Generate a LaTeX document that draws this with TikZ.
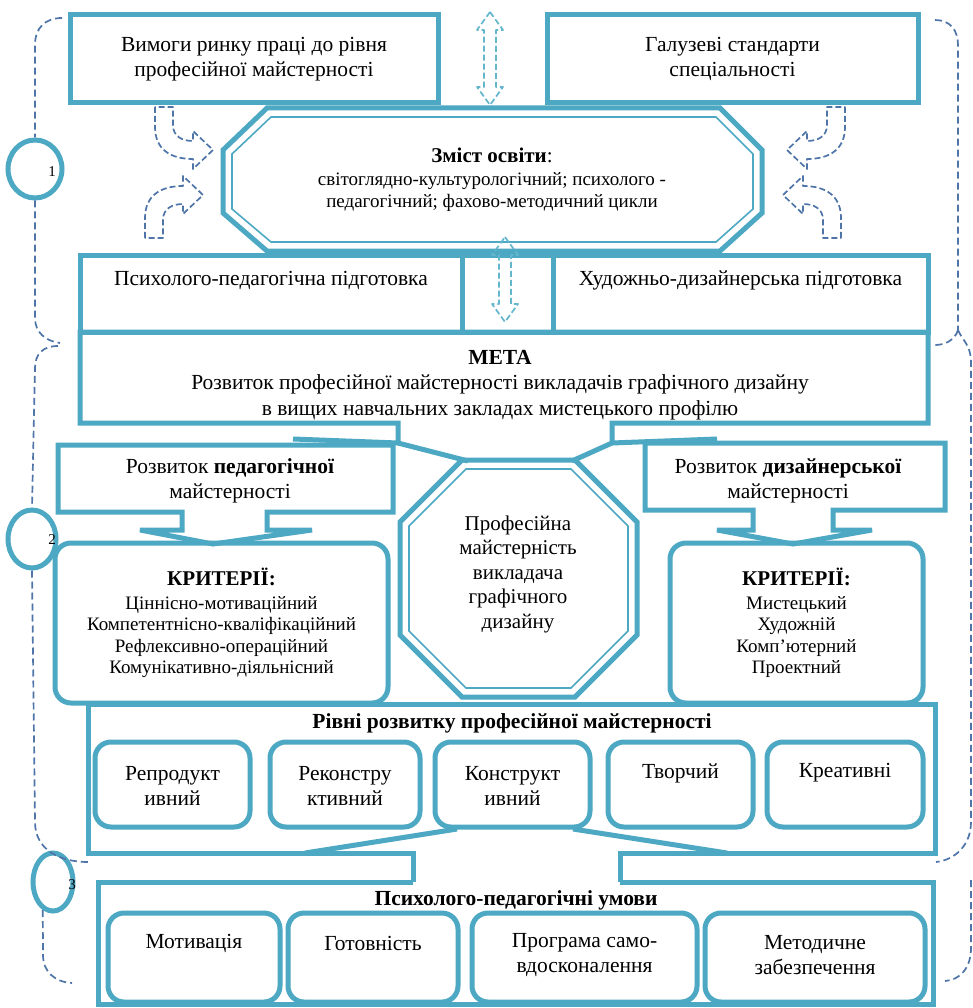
\documentclass[tikz,border=0pt]{standalone}
\usepackage{fontspec}
\setmainfont{Liberation Serif}
\usetikzlibrary{arrows.meta,calc,shapes.geometric,positioning}
\definecolor{frameblue}{HTML}{4DA8C3}
\definecolor{dashblue}{HTML}{4F74A8}
\definecolor{lightblue}{HTML}{63B6CC}
\newcommand{\fsz}[2]{\fontsize{#1}{#2}\selectfont}

\begin{document}
\begin{tikzpicture}[x=1pt, y=-1pt]

\tikzset{
  frame/.style={
    draw=frameblue,
    line width=5pt
  },
  inner/.style={
    draw=frameblue,
    line width=1.6pt
  },
  box/.style={
    frame,
    fill=white,
    inner sep=0pt
  },
  rbox/.style={
    frame,
    rounded corners=16pt,
    inner sep=0pt
  },
  lab/.style={
    align=center,
    inner sep=0pt,
    font=\fsz{21.5}{25.5}
  },
  small/.style={
    align=center,
    inner sep=0pt,
    font=\fsz{19}{21.5}
  },
  brace/.style={
    draw=dashblue,
    line width=1.7pt,
    dash pattern=on 7pt off 4pt
  },
  hollow/.style={
    draw=lightblue,
    line width=1.7pt,
    dash pattern=on 6pt off 3pt,
    line join=round
  },
  bent/.style={
    draw=dashblue,
    line width=1.7pt,
    dash pattern=on 6pt off 3pt,
    line join=round
  },
  ring/.style={
    ellipse,
    draw=frameblue,
    line width=5pt,
    inner sep=0pt
  },
  num/.style={
    inner sep=0pt,
    font=\fsz{15}{17}
  }
}

\useasboundingbox[fill=white] (0,0) rectangle (973,1008);

% Block 1: requirements, standards, content of education
\node[box, lab, minimum width=368pt, minimum height=88pt] (market) at (254,59)
  {Вимоги ринку праці до рівня\\професійної майстерності};
\node[box, lab, minimum width=371pt, minimum height=88pt] (standard) at (732.5,59)
  {Галузеві стандарти\\ спеціальності};

\draw[frame] (267,108) -- (720,108) -- (762,150) -- (762,213) -- (720,251)
  -- (267,251) -- (223,213) -- (223,150) -- cycle;
\draw[inner] (271,117) -- (716,117) -- (753,154) -- (753,209) -- (716,242)
  -- (271,242) -- (232,209) -- (232,154) -- cycle;
\node[align=center, inner sep=0pt, font=\fsz{19}{22.5}] (content) at (492,180)
  {{\fsz{21}{22.5}\textbf{Зміст освіти}:}\\
   світоглядно-культурологічний; психолого -\\
   педагогічний; фахово-методичний цикли};

\node[box, minimum width=382pt, minimum height=77pt] (psy) at (271,293.5) {};
\node[box, minimum width=91pt, minimum height=77pt] (mid) at (507.5,293.5) {};
\node[box, minimum width=375pt, minimum height=77pt] (art) at (740.5,293.5) {};
\node[lab] (psy-t) at (psy |- 0,280) {Психолого-педагогічна підготовка};
\node[lab] (art-t) at (art |- 0,280) {Художньо-дизайнерська підготовка};

% hollow double arrows
\foreach \cx/\ya/\yb in {490/12/105, 505/237/322} {
  \draw[hollow] (\cx,\ya) -- ({\cx+13},{\ya+18}) -- ({\cx+6},{\ya+18})
    -- ({\cx+6},{\yb-18}) -- ({\cx+13},{\yb-18}) -- (\cx,\yb)
    -- ({\cx-13},{\yb-18}) -- ({\cx-6},{\yb-18}) -- ({\cx-6},{\ya+18})
    -- ({\cx-13},{\ya+18}) -- cycle;
}

% bent arrows into the content block
\foreach \ox/\oy/\sx/\sy in {155/107/1/1, 145/238/1/-1, 845/107/-1/1, 841/238/-1/-1} {
  \draw[bent, shift={(\ox,\oy)}, xscale=\sx, yscale=\sy]
    (0,0) -- (0,20) .. controls (0,42) and (15,52) .. (38,52) -- (38,62)
    -- (58,43) -- (38,24) -- (38,34) .. controls (28,34) and (18,30) .. (18,18)
    -- (18,0) -- cycle;
}

% Block 2: aim, development, criteria
\draw[frame] (293,439) -- (398,443) -- (398,423) -- (80,423) -- (80,332)
  -- (928,332) -- (928,423) -- (612,423) -- (612,443) -- (717,439);
\draw[frame] (398,443) -- (468,461);
\draw[frame] (612,443) -- (572,461);
\node[lab] (aim) at (500,385)
  {\textbf{МЕТА}\\
   Розвиток професійної майстерності викладачів графічного дизайну\\
   в вищих навчальних закладах мистецького профілю};

\draw[frame] (182,512) -- (58,512) -- (58,445) -- (393,445) -- (393,512)
  -- (267,512) -- (267,530) -- (312,530) -- (213,544) -- (140,530)
  -- (182,530) -- cycle;
\node[lab] (ped) at (230,481) {Розвиток \textbf{педагогічної}\\майстерності};

\draw[frame] (753,510) -- (645,510) -- (645,443) -- (945,443) -- (945,510)
  -- (833,510) -- (833,530) -- (872,530) -- (793,544) -- (717,530)
  -- (753,530) -- cycle;
\node[lab] (des) at (788,481) {Розвиток \textbf{дизайнерської}\\майстерності};

\draw[frame] (462,460) -- (575,460) -- (637,522) -- (637,635) -- (575,697)
  -- (462,697) -- (400,635) -- (400,522) -- cycle;
\draw[inner] (466,469) -- (571,469) -- (628,526) -- (628,631) -- (571,688)
  -- (466,688) -- (409,631) -- (409,526) -- cycle;
\node[align=center, inner sep=0pt, font=\fsz{21}{24.5}] (prof) at (518,574)
  {Професійна\\майстерність\\викладача\\графічного\\дизайну};

\node[rbox, small, minimum width=333pt, minimum height=160pt] (critL) at (221.5,623)
  {{\fsz{21}{24}\textbf{КРИТЕРІЇ:}}\\[2pt]
   Ціннісно-мотиваційний\\ Компетентнісно-кваліфікаційний\\
   Рефлексивно-операційний\\ Комунікативно-діяльнісний};
\node[rbox, small, minimum width=253pt, minimum height=160pt] (critR) at (796.5,623)
  {{\fsz{21}{24}\textbf{КРИТЕРІЇ:}}\\[2pt]
   Мистецький\\ Художній\\ Комп’ютерний\\ Проектний};

% levels frame
\draw[frame] (413,882) -- (413,853) -- (88,853) -- (88,704) -- (935,704)
  -- (935,853) -- (620,853) -- (620,882);
\draw[frame] (305,853) -- (457,829);
\draw[frame] (727,853) -- (573,829);
\node[lab] (levels) at (512,723) {\textbf{Рівні розвитку професійної майстерності}};

\node[rbox, minimum width=155pt, minimum height=85pt] (lv1) at (172.5,784.5) {};
\node[rbox, minimum width=150pt, minimum height=85pt] (lv2) at (345,784.5) {};
\node[rbox, minimum width=155pt, minimum height=85pt] (lv3) at (512.5,784.5) {};
\node[rbox, minimum width=145pt, minimum height=85pt] (lv4) at (680.5,784.5) {};
\node[rbox, minimum width=156pt, minimum height=85pt] (lv5) at (845,784.5) {};
\node[lab] (lv1-t) at (lv1 |- 0,786) {Репродукт\\ивний};
\node[lab] (lv2-t) at (lv2 |- 0,786) {Реконстру\\ктивний};
\node[lab] (lv3-t) at (lv3 |- 0,786) {Конструкт\\ивний};
\node[lab] (lv4-t) at (lv4 |- 0,773) {Творчий};
\node[lab] (lv5-t) at (lv5 |- 0,773) {Креативні};

% Block 3: conditions
\draw[frame] (413,882) -- (98,882) -- (98,1004) -- (933,1004) -- (933,882) -- (620,882);
\node[lab] (conds) at (516,900) {\textbf{Психолого-педагогічні умови}};

\node[rbox, minimum width=172pt, minimum height=89pt] (cd1) at (194,957.5) {};
\node[rbox, minimum width=170pt, minimum height=89pt] (cd2) at (373,957.5) {};
\node[rbox, minimum width=225pt, minimum height=89pt] (cd3) at (584.5,957.5) {};
\node[rbox, minimum width=220pt, minimum height=89pt] (cd4) at (815,957.5) {};
\node[lab] (cd1-t) at (cd1 |- 0,943) {Мотивація};
\node[lab] (cd2-t) at (cd2 |- 0,943) {Готовність};
\node[lab] (cd3-t) at (cd3 |- 0,955) {Програма само-\\вдосконалення};
\node[lab] (cd4-t) at (cd4 |- 0,955) {Методичне\\забезпечення};

% numbered rings and dashed braces
\node[ring, minimum width=54pt, minimum height=58pt] (r1) at (35,169) {};
\node[ring, minimum width=48pt, minimum height=58pt] (r2) at (32,539) {};
\node[ring, minimum width=40pt, minimum height=58pt] (r3) at (53,882) {};
\node[num] (n1) at (52,172) {1};
\node[num] (n2) at (52,540) {2};
\node[num] (n3) at (72,885) {3};

\draw[brace] (62,18) .. controls (45,18) and (35,28) .. (35,45) -- (r1.north);
\draw[brace] (r1.south) -- (35,318) .. controls (35,332) and (45,341) .. (60,343);
\draw[brace] (58,346) .. controls (42,346) and (35,355) .. (35,368) -- (r2.north);
\draw[brace] (r2.south) -- (35,822) .. controls (35,850) and (60,862) .. (88,862);
\draw[brace] (r3.250) -- (43,955) .. controls (43,972) and (55,982) .. (72,983);

\draw[brace] (935,20) .. controls (950,20) and (958,30) .. (958,45) -- (958,330);
\draw[brace] (958,330) .. controls (955,340) and (945,345) .. (935,345);
\draw[brace] (958,330) .. controls (962,340) and (971,345) .. (971,362)
  -- (971,822) .. controls (971,845) and (955,860) .. (936,862);
\draw[brace] (971,880) -- (971,948) .. controls (971,968) and (960,980) .. (945,981);

\end{tikzpicture}
\end{document}
